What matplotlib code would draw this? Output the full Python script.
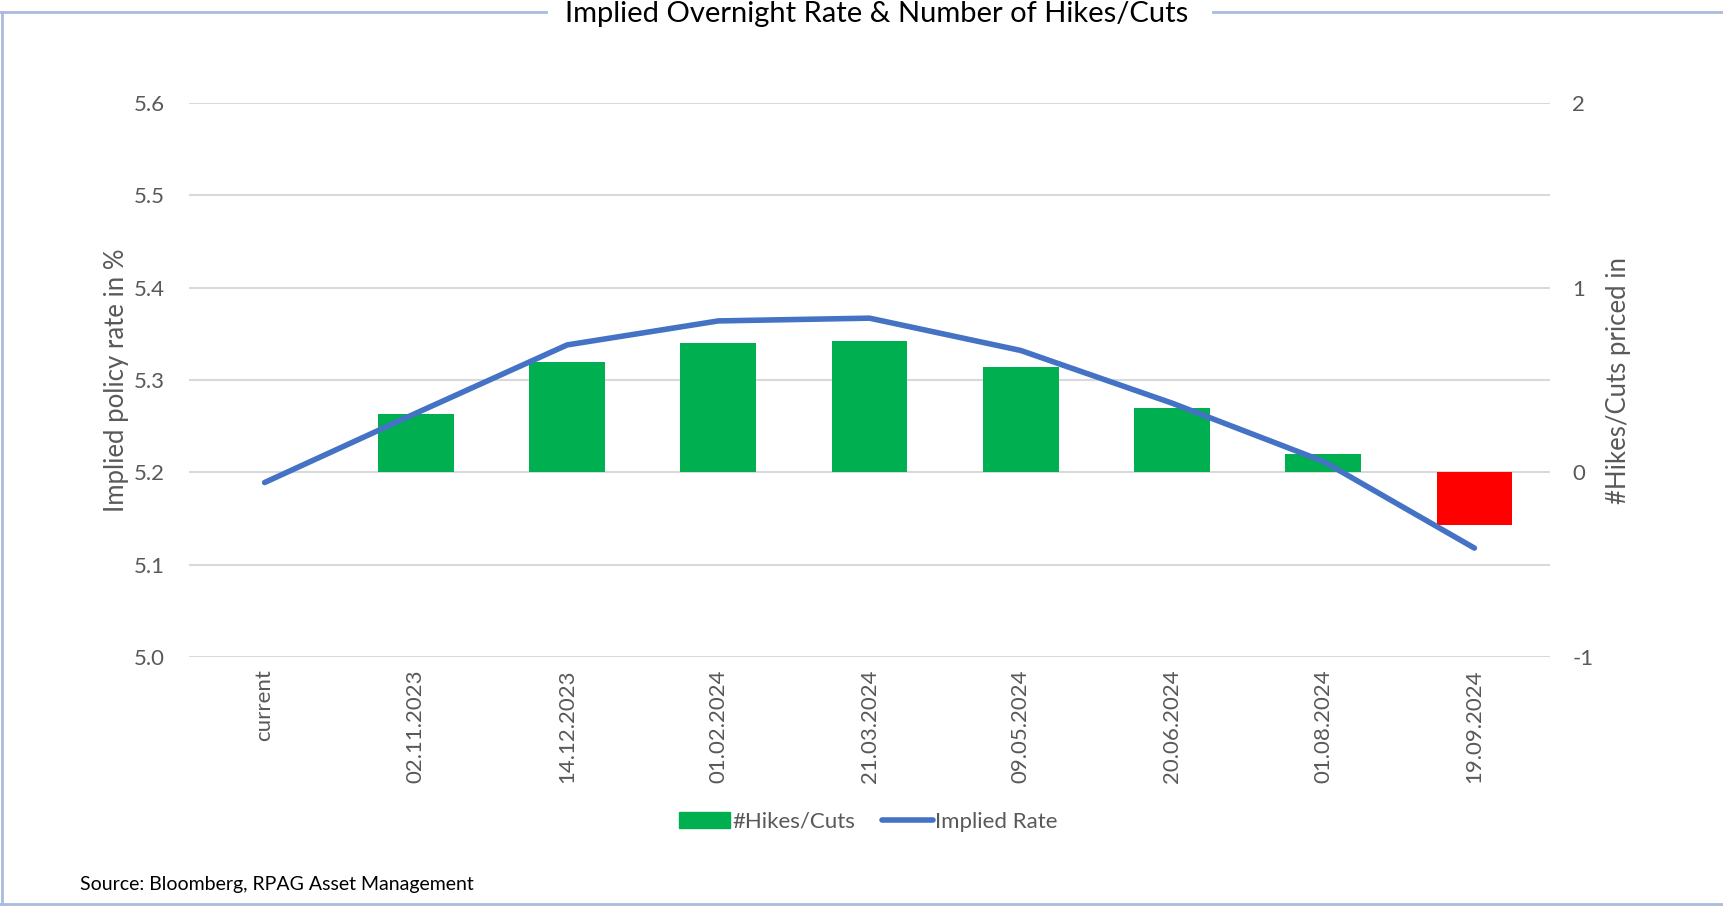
import numpy as np
import matplotlib.pyplot as plt
from matplotlib.patches import Patch
from matplotlib.lines import Line2D

plt.rcParams["font.family"] = ["Lato", "DejaVu Sans"]

# ==========================================================
# Data
# ==========================================================

dates = [
    "current", "02.11.2023", "14.12.2023", "01.02.2024", "21.03.2024",
    "09.05.2024", "20.06.2024", "01.08.2024", "19.09.2024"
]

implied_rate = [5.189, 5.264, 5.338, 5.364, 5.367, 5.332, 5.275, 5.212, 5.118]

hikes_cuts = [0.0, 0.315, 0.60, 0.70, 0.714, 0.571, 0.351, 0.10, -0.286]

left_ticks = [5.0, 5.1, 5.2, 5.3, 5.4, 5.5, 5.6]
right_ticks = [-1, -0.5, 0, 0.5, 1, 1.5, 2]

GREEN = "#00B050"
RED = "#FF0000"
BLUE = "#4472C4"
GREY = "#595959"
GRID = "#D9D9D9"
FRAME = "#A9BCDD"


# ==========================================================
# Figure
# ==========================================================

fig = plt.figure(figsize=(17.23, 9.06), dpi=100)

ax2 = fig.add_axes([0.1097, 0.2748, 0.7899, 0.6115])
ax = ax2.twinx()

ax.set_zorder(ax2.get_zorder() + 1)
ax.patch.set_visible(False)

x = np.arange(len(dates))


# ==========================================================
# Bars (right axis)
# ==========================================================

bar_colors = [GREEN if v >= 0 else RED for v in hikes_cuts]

ax2.bar(
    x,
    hikes_cuts,
    width=0.5,
    color=bar_colors,
    zorder=2
)

ax2.set_ylim(-1, 2)
ax2.set_yticks(right_ticks)
ax2.set_yticklabels(
    [f"{t:g}" if float(t).is_integer() else "" for t in right_ticks]
)
ax2.yaxis.tick_right()
ax2.yaxis.set_label_position("right")
ax2.grid(axis="y", color=GRID, linewidth=1.5, zorder=0)
ax2.set_axisbelow(True)

ax2.set_ylabel(
    "#Hikes/Cuts priced in",
    fontsize=18.5,
    color=GREY,
    labelpad=9
)


# ==========================================================
# Line (left axis)
# ==========================================================

ax.plot(
    x,
    implied_rate,
    color=BLUE,
    linewidth=4,
    solid_capstyle="round",
    solid_joinstyle="round"
)

ax.set_ylim(5.0, 5.6)
ax.set_yticks(left_ticks)
ax.set_yticklabels([f"{t:.1f}" for t in left_ticks])
ax.yaxis.tick_left()
ax.yaxis.set_label_position("left")

ax.set_ylabel(
    "Implied policy rate in %",
    fontsize=18.5,
    color=GREY,
    labelpad=3
)

ax2.set_xlim(-0.5, len(dates) - 0.5)
ax2.set_xticks(x)
ax2.set_xticklabels(dates, rotation=90, va="top", ha="center")


# ==========================================================
# Styling
# ==========================================================

for a in (ax, ax2):
    for s in a.spines.values():
        s.set_visible(False)
    a.tick_params(length=0, labelsize=16, labelcolor=GREY)

ax.tick_params(axis="y", pad=17.5)
ax2.tick_params(axis="y", pad=16)
ax2.tick_params(axis="x", pad=9)


# ==========================================================
# Legend
# ==========================================================

handles = [
    Patch(facecolor=GREEN, edgecolor=GREEN),
    Line2D([0], [0], color=BLUE, linewidth=4, solid_capstyle="round")
]

fig.legend(
    handles,
    ["#Hikes/Cuts", "Implied Rate"],
    loc="center",
    bbox_to_anchor=(0.504, 0.093),
    ncol=2,
    frameon=False,
    fontsize=16,
    labelcolor=GREY,
    handlelength=2.3,
    handletextpad=0.1,
    columnspacing=1.2
)


# ==========================================================
# Title, Source and Frame
# ==========================================================

fig.text(
    0.5086,
    0.9757,
    "Implied Overnight Rate & Number of Hikes/Cuts",
    ha="center",
    va="baseline",
    fontsize=21,
    color="black"
)

fig.text(
    0.0464,
    0.018,
    "Source: Bloomberg, RPAG Asset Management",
    ha="left",
    va="baseline",
    fontsize=14,
    color="black"
)

frame_y = 1 - 12 / 906

fig.add_artist(Line2D([0.0, 0.317], [frame_y, frame_y],
                      color=FRAME, linewidth=2, transform=fig.transFigure))
fig.add_artist(Line2D([0.704, 1.0], [frame_y, frame_y],
                      color=FRAME, linewidth=2, transform=fig.transFigure))
fig.add_artist(Line2D([0.001, 0.001], [0.0, frame_y],
                      color=FRAME, linewidth=2, transform=fig.transFigure))
fig.add_artist(Line2D([0.0, 1.0], [0.002, 0.002],
                      color=FRAME, linewidth=2, transform=fig.transFigure))

plt.savefig("out.png", dpi=100)

plt.close()
